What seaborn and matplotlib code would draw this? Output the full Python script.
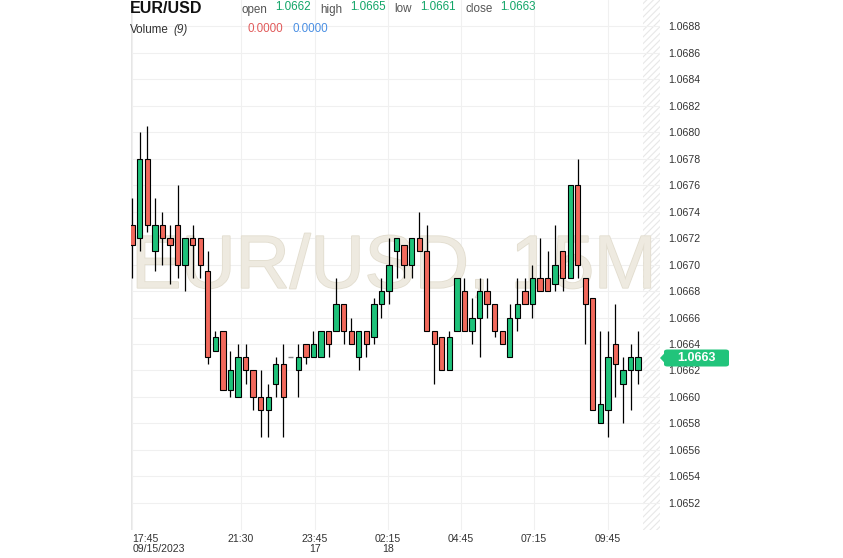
import numpy as np
import matplotlib
matplotlib.use("Agg")
import matplotlib.pyplot as plt
import matplotlib.patheffects as pe
from matplotlib.patches import FancyBboxPatch, Polygon
import seaborn as sns

# 15-minute EUR/USD candles, 09/15/2023 17:45 -> 09/18/2023 10:00
opens = [1.06730, 1.06720, 1.06780, 1.06710, 1.06730, 1.06720, 1.06730, 1.06700, 1.06720, 1.06720,
         1.06695, 1.06635, 1.06650, 1.06605, 1.06600, 1.06630, 1.06620, 1.06600, 1.06590, 1.06610,
         1.06625, 1.06630, 1.06620, 1.06640, 1.06630, 1.06630, 1.06650, 1.06650, 1.06670, 1.06650,
         1.06630, 1.06650, 1.06645, 1.06670, 1.06680, 1.06710, 1.06715, 1.06700, 1.06720, 1.06710,
         1.06650, 1.06645, 1.06620, 1.06650, 1.06680, 1.06650, 1.06660, 1.06680, 1.06670, 1.06650,
         1.06630, 1.06660, 1.06680, 1.06670, 1.06690, 1.06690, 1.06685, 1.06710, 1.06690, 1.06760,
         1.06690, 1.06675, 1.06580, 1.06590, 1.06640, 1.06610, 1.06620, 1.06620]
highs = [1.06750, 1.06800, 1.06805, 1.06750, 1.06740, 1.06730, 1.06760, 1.06720, 1.06730, 1.06720,
         1.06710, 1.06650, 1.06650, 1.06635, 1.06640, 1.06640, 1.06620, 1.06620, 1.06610, 1.06630,
         1.06640, 1.06630, 1.06640, 1.06640, 1.06650, 1.06650, 1.06650, 1.06690, 1.06670, 1.06660,
         1.06650, 1.06650, 1.06675, 1.06690, 1.06720, 1.06720, 1.06715, 1.06720, 1.06740, 1.06730,
         1.06650, 1.06645, 1.06650, 1.06690, 1.06690, 1.06675, 1.06690, 1.06690, 1.06670, 1.06650,
         1.06670, 1.06690, 1.06690, 1.06700, 1.06720, 1.06710, 1.06730, 1.06710, 1.06760, 1.06780,
         1.06690, 1.06675, 1.06650, 1.06650, 1.06670, 1.06630, 1.06640, 1.06650]
lows = [1.06690, 1.06710, 1.06725, 1.06695, 1.06700, 1.06685, 1.06690, 1.06680, 1.06690, 1.06690,
        1.06625, 1.06635, 1.06605, 1.06600, 1.06600, 1.06610, 1.06590, 1.06570, 1.06570, 1.06600,
        1.06570, 1.06630, 1.06600, 1.06625, 1.06630, 1.06630, 1.06630, 1.06650, 1.06640, 1.06640,
        1.06620, 1.06630, 1.06640, 1.06660, 1.06670, 1.06690, 1.06690, 1.06690, 1.06710, 1.06650,
        1.06610, 1.06620, 1.06620, 1.06650, 1.06650, 1.06640, 1.06630, 1.06660, 1.06645, 1.06640,
        1.06630, 1.06650, 1.06670, 1.06660, 1.06680, 1.06680, 1.06680, 1.06680, 1.06690, 1.06690,
        1.06640, 1.06590, 1.06580, 1.06570, 1.06600, 1.06580, 1.06590, 1.06610]
closes = [1.06715, 1.06780, 1.06730, 1.06730, 1.06720, 1.06715, 1.06700, 1.06720, 1.06715, 1.06700,
          1.06630, 1.06645, 1.06605, 1.06620, 1.06630, 1.06620, 1.06600, 1.06590, 1.06600, 1.06625,
          1.06600, 1.06630, 1.06630, 1.06630, 1.06640, 1.06650, 1.06640, 1.06670, 1.06650, 1.06640,
          1.06650, 1.06640, 1.06670, 1.06680, 1.06700, 1.06720, 1.06700, 1.06720, 1.06710, 1.06650,
          1.06640, 1.06620, 1.06645, 1.06690, 1.06650, 1.06660, 1.06680, 1.06670, 1.06650, 1.06640,
          1.06660, 1.06670, 1.06670, 1.06690, 1.06680, 1.06680, 1.06700, 1.06690, 1.06760, 1.06700,
          1.06670, 1.06590, 1.06595, 1.06630, 1.06625, 1.06620, 1.06630, 1.06630]

xtick_pos = [0, 14.4, 24.2, 33.9, 43.5, 53.2, 63.0]
xtick_labels = ["17:45\n09/15/2023", "21:30", "23:45\n17", "02:15\n18", "04:45", "07:15", "09:45"]
ytick_vals = [1.0652, 1.0654, 1.0656, 1.0658, 1.0660, 1.0662, 1.0664, 1.0666, 1.0668, 1.0670,
              1.0672, 1.0674, 1.0676, 1.0678, 1.0680, 1.0682, 1.0684, 1.0686, 1.0688]
last_price = 1.0663

up_color = "#1ec27a"
down_color = "#f2695c"

sns.set_theme(style="whitegrid", rc={"grid.color": "#f0f0f0", "grid.linewidth": 0.8})
plt.rcParams["font.family"] = ["Liberation Sans", "DejaVu Sans"]
plt.rcParams["hatch.linewidth"] = 0.8

o = np.array(opens)
h = np.array(highs)
l = np.array(lows)
c = np.array(closes)
x = np.arange(len(o))

fig = plt.figure(figsize=(8.43, 5.58), dpi=100)
ax = fig.add_axes([131 / 843, 28 / 558, 529 / 843, 530 / 558])

# wicks
ax.vlines(x, l, h, color="black", linewidth=0.9, zorder=2)

# bodies (doji drawn as a grey dash)
doji = o == c
body_colors = np.where(c > o, up_color, down_color)
ax.bar(x[~doji], np.abs(c - o)[~doji], bottom=np.minimum(o, c)[~doji], width=0.7,
       color=body_colors[~doji], edgecolor="black", linewidth=0.8, zorder=3)
ax.hlines(o[doji], x[doji] - 0.35, x[doji] + 0.35, color="#888888", linewidth=1.0, zorder=3)

# watermark
ax.text(0.497, 0.457, "EUR/USD, 15M", transform=ax.transAxes, ha="center", va="baseline",
        fontsize=54, color="#eeeae0", zorder=1,
        path_effects=[pe.withStroke(linewidth=1.2, foreground="#e2ddcf")])

# hatched strip on the right edge
ax.axvspan(67.6, 69.9, facecolor="none", edgecolor="#e8e8e8", hatch="/////", linewidth=0, zorder=0.5)

ax.set_xlim(-0.17, 69.9)
ax.set_ylim(1.064994, 1.0690003)

ax.set_xticks(xtick_pos)
ax.set_xticklabels(xtick_labels, fontsize=7.6, color="#333333", linespacing=0.95)
for i, lbl in enumerate(ax.get_xticklabels()):
    lbl.set_ha("left" if i == 0 else "center")
ax.yaxis.tick_right()
ax.set_yticks(ytick_vals)
ax.set_yticklabels([f"{v:.4f}" for v in ytick_vals], fontsize=7.6, color="#333333")
ax.tick_params(axis="y", length=0, pad=6)
ax.tick_params(axis="x", length=0, pad=3)
ax.grid(True, color="#f0f0f0", linewidth=0.8)
for s in ax.spines.values():
    s.set_visible(False)
ax.axvline(-0.15, color="#e6e6e6", linewidth=0.8, zorder=0.6)

# last price tag
bx, by, bw, bh = 664 / 843, 1 - 366.5 / 558, 65 / 843, 17 / 558
fig.patches.append(FancyBboxPatch((bx, by), bw, bh, boxstyle="round,pad=0,rounding_size=0.004",
                                  transform=fig.transFigure, facecolor="#21c47b", edgecolor="none"))
fig.patches.append(Polygon([[bx, by + bh * 0.25], [bx, by + bh * 0.75], [bx - 4 / 843, by + bh / 2]],
                           closed=True, transform=fig.transFigure, facecolor="#21c47b", edgecolor="none"))
fig.text(bx + bw / 2, by + bh / 2, f"{last_price:.4f}", ha="center", va="center",
         color="white", fontsize=9, fontweight="bold")

# header legend
def fx(px):
    return px / 843

def fy(py):
    return 1 - py / 558

fig.text(fx(130), fy(13), "EUR/USD", fontsize=11.5, fontweight="bold", color="#111111", va="baseline")
head = [("open", 241.5, "1.0662", 275), ("high", 320, "1.0665", 350),
        ("low", 394, "1.0661", 420), ("close", 465, "1.0663", 500)]
for name, nx, val, vx in head:
    fig.text(fx(nx), fy(12.5), name, fontsize=8.4, color="#555555", va="baseline")
    fig.text(fx(vx), fy(9.5), val, fontsize=8.4, color="#12a568", va="baseline")
fig.text(fx(130), fy(33), "Volume", fontsize=8.4, color="#333333", va="baseline")
fig.text(fx(173), fy(33), "(9)", fontsize=8.4, color="#333333", va="baseline", style="italic")
fig.text(fx(247), fy(31.5), "0.0000", fontsize=8.4, color="#e15b5b", va="baseline")
fig.text(fx(292.5), fy(31.5), "0.0000", fontsize=8.4, color="#4a8fe3", va="baseline")

fig.savefig("out.png", dpi=100, facecolor="white")
